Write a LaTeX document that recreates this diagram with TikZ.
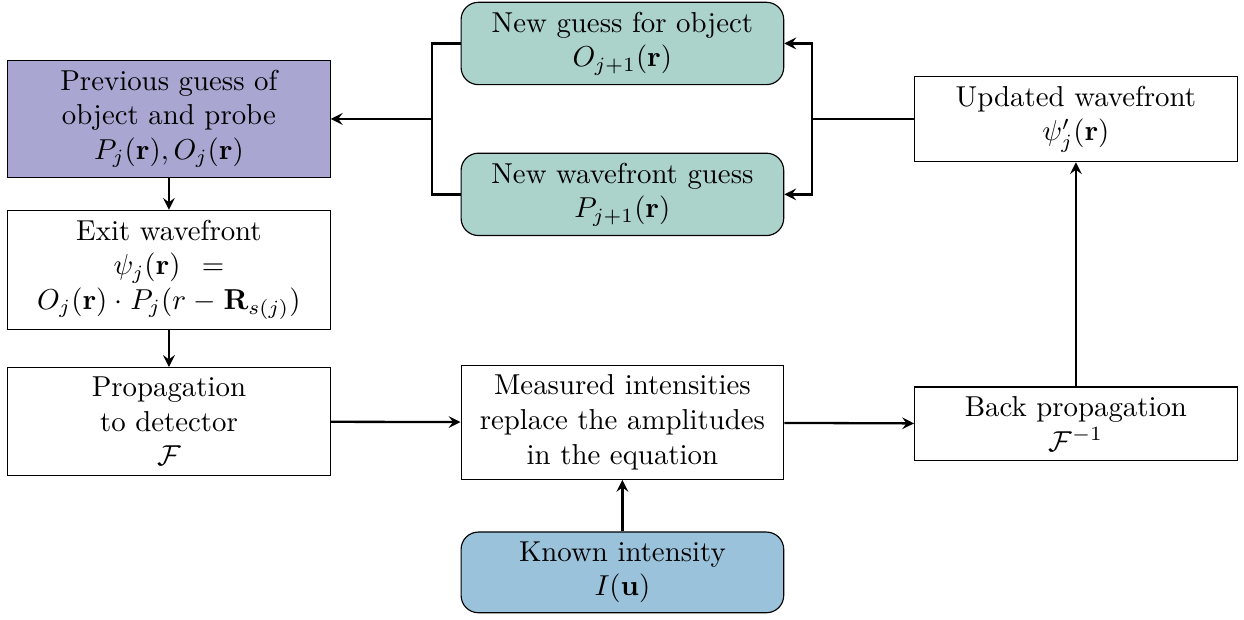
\documentclass[tikz,border=0pt]{standalone}
\usepackage{amsmath}
\usepackage{amsfonts}
\usepackage{tikz}
\usetikzlibrary{arrows,shapes,positioning}
\definecolor{prevcol}{RGB}{170,166,210}
\definecolor{newcol}{RGB}{171,211,203}
\definecolor{knowncol}{RGB}{154,194,219}
\begin{document}
\begin{tikzpicture}[>=stealth]
                    \tikzstyle{block}=[rectangle, draw, text width=3.7cm, align=center]
                    \tikzstyle{roundblock}=[block, rounded corners=6pt]
                    \tikzstyle{line}=[draw, thick]
                    \useasboundingbox (0,0) rectangle (15.17,-7.55);
                    % left column
                    \node [block, fill=prevcol] (prev) at (2.06,-1.45) {Previous guess of\\ object and probe\\ $P_j(\mathbf{r}), O_j(\mathbf{r})$};
                    \node [block] (exit) at (2.06,-3.29) {Exit wavefront\\ $\psi_j(\mathbf{r}) = O_j(\mathbf{r})\cdot P_j(r-\mathbf{R}_{s(j)})$};
                    \node [block] (prop) at (2.06,-5.14) {Propagation\\ to detector\\ $\mathcal{F}$};
                    % middle column
                    \node [roundblock, fill=newcol] (newobj) at (7.59,-0.53) {New guess for object\\ $O_{j+1}(\mathbf{r})$};
                    \node [roundblock, fill=newcol] (newwave) at (7.59,-2.37) {New wavefront guess\\ $P_{j+1}(\mathbf{r})$};
                    \node [block] (meas) at (7.59,-5.15) {Measured intensities\\ replace the amplitudes\\ in the equation};
                    \node [roundblock, fill=knowncol] (known) at (7.59,-6.98) {Known intensity\\ $I(\mathbf{u})$};
                    % right column
                    \node [block] (back) at (13.12,-5.17) {Back propagation\\ $\mathcal{F}^{-1}$};
                    \node [block] (upd) at (13.12,-1.45) {Updated wavefront\\ $\psi'_j(\mathbf{r})$};
                    % junctions
                    \coordinate (splitR) at (9.90,-1.45);
                    \coordinate (splitL) at (5.27,-1.45);
                    % arrows
                    \path [line,->] (prev) -- (exit);
                    \path [line,->] (exit) -- (prop);
                    \path [line,->] (prop) -- (meas);
                    \path [line,->] (known) -- (meas);
                    \path [line,->] (meas) -- (back);
                    \path [line,->] (back) -- (upd);
                    \path [line] (upd.west) -- (splitR);
                    \path [line,->] (splitR) |- (newobj.east);
                    \path [line,->] (splitR) |- (newwave.east);
                    \path [line] (newobj.west) -| (splitL) |- (newwave.west);
                    \path [line,->] (splitL) -- (prev.east |- splitL);
\end{tikzpicture}
\end{document}
